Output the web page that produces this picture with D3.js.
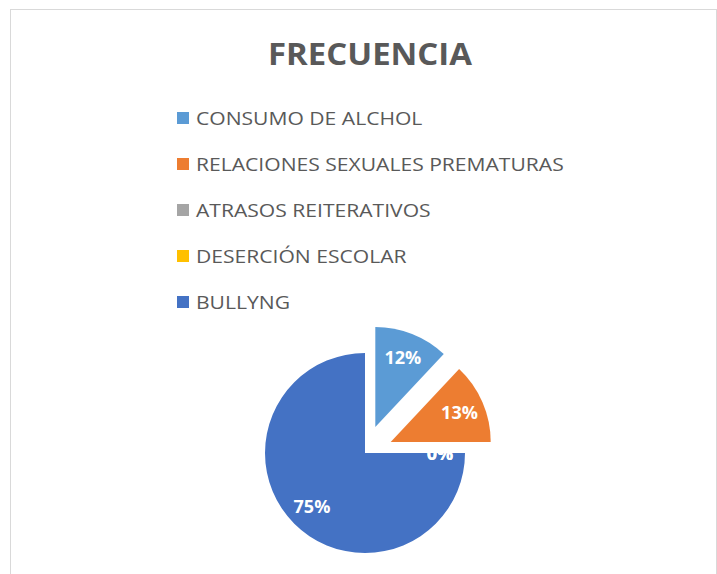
<!DOCTYPE html>
<html>
<head>
<meta charset="utf-8">
<script src="https://cdn.jsdelivr.net/npm/d3@7"></script>
<style>
  html, body { margin: 0; padding: 0; background: #ffffff; }
  svg { display: block; }
</style>
</head>
<body>
<svg id="chart" width="717" height="574"></svg>
<script>
// ---- data ----
const title = "FRECUENCIA";
const categories = [
  "CONSUMO DE ALCHOL",
  "RELACIONES SEXUALES PREMATURAS",
  "ATRASOS REITERATIVOS",
  "DESERCIÓN ESCOLAR",
  "BULLYNG"
];
const values = [12, 13, 0, 0, 75];
const colors = ["#5B9BD5", "#ED7D31", "#A5A5A5", "#FFC000", "#4472C4"];
const exploded = [true, true, false, false, false];

// ---- layout ----
const svg = d3.select("#chart");
const W = 717, H = 574;
const font = "'Open Sans', 'DejaVu Sans', sans-serif";

// chart area border
svg.append("rect")
  .attr("x", 10.5).attr("y", 9.5)
  .attr("width", W - 11).attr("height", H + 20)
  .attr("fill", "#ffffff")
  .attr("stroke", "#d9d9d9").attr("stroke-width", 1);

// title
const titleText = svg.append("text")
  .attr("x", 0).attr("y", 0)
  .attr("text-anchor", "middle")
  .attr("font-family", font)
  .attr("font-weight", "bold")
  .attr("font-size", 31)
  .attr("fill", "#595959")
  .text(title);
{
  const tw = titleText.node().getComputedTextLength();
  const sx = 204 / tw;
  titleText.attr("transform", `translate(370,65) scale(${sx},1)`);
}

// legend
const legendY = d3.scalePoint().domain(categories).range([118, 302]);
const legend = svg.append("g");
const rows = legend.selectAll("g.row").data(categories).join("g")
  .attr("class", "row")
  .attr("transform", d => `translate(177,${legendY(d)})`);
rows.append("rect")
  .attr("x", 0).attr("y", -6)
  .attr("width", 12).attr("height", 12)
  .attr("fill", (d, i) => colors[i]);
const ltexts = rows.append("text")
  .attr("font-family", font)
  .attr("font-size", 19)
  .attr("fill", "#595959")
  .attr("dominant-baseline", "central")
  .text(d => d);
{
  // uniform horizontal scale so the longest entry spans like the reference
  const longest = d3.max(ltexts.nodes(), n => n.getComputedTextLength());
  const sx = 368 / longest;
  ltexts.attr("transform", `translate(19,0) scale(${sx},1)`);
}

// pie
const cx = 365, cy = 453, R = 100, explode = 28, labelR = 75;
const pie = d3.pie().sort(null).value(d => d)(values);
const arc = d3.arc().innerRadius(0).outerRadius(R);
const gPie = svg.append("g").attr("transform", `translate(${cx},${cy})`);

function offset(d, i) {
  if (!exploded[i]) return [0, 0];
  const a = (d.startAngle + d.endAngle) / 2;
  return [Math.sin(a) * explode, -Math.cos(a) * explode];
}

gPie.selectAll("path").data(pie).join("path")
  .attr("d", arc)
  .attr("transform", (d, i) => { const o = offset(d, i); return `translate(${o[0]},${o[1]})`; })
  .attr("fill", (d, i) => colors[i]);

gPie.selectAll("text.lbl").data(pie).join("text")
  .attr("class", "lbl")
  .attr("transform", (d, i) => {
    const o = offset(d, i);
    const a = (d.startAngle + d.endAngle) / 2;
    return `translate(${o[0] + Math.sin(a) * labelR},${o[1] - Math.cos(a) * labelR})`;
  })
  .attr("text-anchor", "middle")
  .attr("dominant-baseline", "central")
  .attr("font-family", font)
  .attr("font-weight", "bold")
  .attr("font-size", 18)
  .attr("fill", "#ffffff")
  .text(d => Math.round(d.value) + "%");
</script>
</body>
</html>
